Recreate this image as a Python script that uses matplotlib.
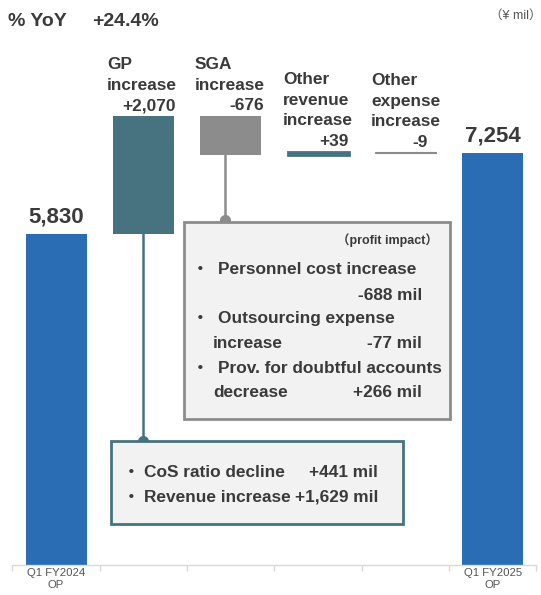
import matplotlib
matplotlib.use("Agg")
import matplotlib.pyplot as plt
from matplotlib.patches import Rectangle
import numpy as np

# ---- data (¥ mil) ----
categories = ["Q1 FY2024\nOP", "", "", "", "", "Q1 FY2025\nOP"]
step_names = ["", "GP\nincrease", "SGA\nincrease", "Other\nrevenue\nincrease",
              "Other\nexpense\nincrease", ""]
values = [5830, 2070, -676, 39, -9, 7254]
value_labels = ["5,830", "+2,070", "-676", "+39", "-9", "7,254"]
yoy_label = "+24.4%"

sga_items = [
    ("Personnel cost increase", "-688 mil"),
    ("Outsourcing expense\nincrease", "-77 mil"),
    ("Prov. for doubtful accounts\ndecrease", "+266 mil"),
]
gp_items = [
    ("CoS ratio decline", "+441 mil"),
    ("Revenue increase", "+1,629 mil"),
]

# ---- styling ----
BLUE = "#2A6DB4"
TEAL = "#46737F"
GRAY = "#8C8C8C"
TXT = "#3A3A3A"
FONT = ["Liberation Sans", "Noto Sans CJK JP", "DejaVu Sans"]
plt.rcParams["font.family"] = FONT
FS = 12.4

W, H = 541, 595
fig = plt.figure(figsize=(W / 100, H / 100), dpi=100)


def fx(x):
    return x / W


def fy(y):
    return 1 - y / H


ax = fig.add_axes([fx(12.4), 30 / H, 524 / W, 565 / H])
ax.set_xlim(-0.5, 5.5)
ax.set_ylim(0, 9944)

# waterfall geometry
bottoms, heights, colors = [], [], []
running = 0
for i, v in enumerate(values):
    if i == 0 or i == len(values) - 1:
        bottoms.append(0)
        heights.append(v)
        colors.append(BLUE)
        running = v
    else:
        bottoms.append(running if v >= 0 else running + v)
        heights.append(abs(v))
        colors.append(TEAL if v >= 0 else GRAY)
        running += v

x = np.arange(len(values))
for i in x:
    lw = 0
    if heights[i] < 100:
        lw = 2.0 if values[i] > 0 else 0.8
    ax.bar(i, heights[i], bottom=bottoms[i], width=0.7, color=colors[i],
           edgecolor=colors[i], linewidth=lw, zorder=2)

# totals
for i in (0, len(values) - 1):
    ax.annotate(value_labels[i], (i, heights[i]), xytext=(0, 8),
                textcoords="offset points", ha="center", va="baseline",
                fontsize=16, fontweight="bold", color=TXT)

# step labels: name lines left aligned, value right aligned
step_px = {1: (107, 176, 69), 2: (195, 264, 69), 3: (283, 349, 84), 4: (371, 428, 85)}
for i, (lx, rx, base) in step_px.items():
    lines = step_names[i].split("\n")
    for k, ln in enumerate(lines):
        fig.text(fx(lx), fy(base + k * 20.7), ln, ha="left", va="baseline",
                 fontsize=FS, fontweight="bold", color=TXT)
    fig.text(fx(rx), fy(base + len(lines) * 20.7), value_labels[i], ha="right",
             va="baseline", fontsize=FS, fontweight="bold", color=TXT)

# header
fig.text(fx(8), fy(26), "% YoY", ha="left", va="baseline", fontsize=14,
         fontweight="bold", color=TXT)
fig.text(fx(92), fy(26), yoy_label, ha="left", va="baseline", fontsize=14,
         fontweight="bold", color=TXT)
fig.text(fx(541), fy(19), "（¥ mil）", ha="right", va="baseline", fontsize=9,
         color="#555555")

# axis
for s in ("left", "right", "top"):
    ax.spines[s].set_visible(False)
ax.spines["bottom"].set_color("#D9D9D9")
ax.spines["bottom"].set_linewidth(1.0)
ax.set_yticks([])
ax.set_xticks(x)
ax.set_xticklabels(categories, fontsize=8.2, color="#555555", linespacing=1.25)
ax.tick_params(axis="x", length=0, pad=2.5)
ax.set_xticks(np.arange(-0.5, 6.0, 1.0), minor=True)
ax.tick_params(axis="x", which="minor", length=4, color="#D9D9D9", width=1)


# ---- callout boxes ----
def px_to_data_y(ypx):
    return (565 - ypx) / 565 * 9944


def box(x0, y0, x1, y1, edge):
    fig.patches.append(Rectangle((fx(x0), fy(y1)), (x1 - x0) / W, (y1 - y0) / H,
                                 transform=fig.transFigure, facecolor="#F2F2F2",
                                 edgecolor=edge, linewidth=2, zorder=3))


# SGA box
box(184, 222, 450, 419, GRAY)
ax.plot([1.94, 1.94], [bottoms[2], px_to_data_y(220)], color=GRAY, lw=1.8, zorder=1)
ax.plot([1.94], [px_to_data_y(220)], "o", ms=7, color=GRAY, zorder=5, clip_on=False)
fig.text(fx(438), fy(244), "（profit impact）", ha="right", va="baseline",
         fontsize=9, fontweight="bold", color=TXT, zorder=6)

sga_rows = [(274, 300), (323, 348), (373, 397)]
for (label, amt), (b1, b2) in zip(sga_items, sga_rows):
    parts = label.split("\n")
    fig.text(fx(200), fy(b1), "・", ha="center", va="baseline", fontsize=12,
             fontweight="bold", color=TXT, zorder=6)
    fig.text(fx(218), fy(b1), parts[0], ha="left", va="baseline", fontsize=FS,
             fontweight="bold", color=TXT, zorder=6)
    if len(parts) > 1:
        fig.text(fx(213), fy(b2), parts[1], ha="left", va="baseline",
                 fontsize=FS, fontweight="bold", color=TXT, zorder=6)
    fig.text(fx(422), fy(b2), amt, ha="right", va="baseline", fontsize=FS,
             fontweight="bold", color=TXT, zorder=6)

# GP box
box(111, 441, 403, 524, TEAL)
ax.plot([1.0, 1.0], [bottoms[1], px_to_data_y(441)], color=TEAL, lw=1.8, zorder=1)
ax.plot([1.0], [px_to_data_y(441)], "o", ms=7, color=TEAL, zorder=5, clip_on=False)
for (label, amt), b in zip(gp_items, (477, 502)):
    fig.text(fx(131), fy(b), "・", ha="center", va="baseline", fontsize=12,
             fontweight="bold", color=TXT, zorder=6)
    fig.text(fx(144), fy(b), label, ha="left", va="baseline", fontsize=FS,
             fontweight="bold", color=TXT, zorder=6)
    fig.text(fx(378), fy(b), amt, ha="right", va="baseline", fontsize=FS,
             fontweight="bold", color=TXT, zorder=6)

fig.savefig("out.png", dpi=100)
